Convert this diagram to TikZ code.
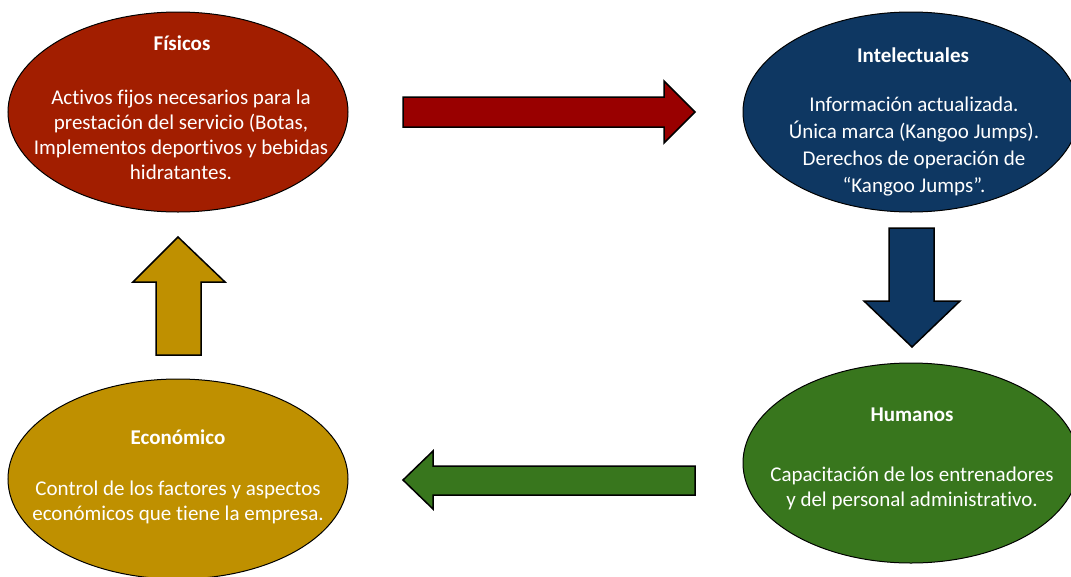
\documentclass[tikz,border=0pt]{standalone}
\usepackage{fontspec}
\setmainfont{Carlito}[Ligatures=NoCommon]
\usetikzlibrary{shapes.geometric}
\definecolor{fisred}{HTML}{A21E00}
\definecolor{arrred}{HTML}{990000}
\definecolor{intblue}{HTML}{0E3762}
\definecolor{humgreen}{HTML}{38761D}
\definecolor{ecogold}{HTML}{BF9000}
\begin{document}
\begin{tikzpicture}[x=1pt,y=-1pt,
  blob/.style={ellipse, draw=black, line width=1pt, minimum width=340pt, minimum height=200pt, inner sep=0pt},
  ttl/.style={text=white, font=\fontsize{21}{25}\selectfont\bfseries},
  bodytext/.style={text=white, align=center, font=\fontsize{21}{25}\selectfont},
  blockarrow/.style={draw=black, line width=1.5pt, line join=miter}]
\useasboundingbox (0,0) rectangle (1071,576);
% ellipses
\node[blob, fill=fisred] (fis) at (178,112) {};
\node[blob, fill=intblue, minimum width=336pt] (int) at (911,112) {};
\node[blob, fill=humgreen, minimum width=336pt] (hum) at (911,463) {};
\node[blob, fill=ecogold] (eco) at (178,479) {};
% texts
\node[ttl] (fist) at (182,43) {Físicos};
\node[bodytext] (fisb) at (181,135) {Activos fijos necesarios para la\\prestación del servicio (Botas,\\Implementos deportivos y bebidas\\hidratantes.};
\node[ttl] (intt) at (913,55) {Intelectuales};
\node[bodytext, font=\fontsize{21}{27}\selectfont] (intb) at (914,147) {Información actualizada.\\Única marca (Kangoo Jumps).\\Derechos de operación de\\“Kangoo Jumps”.};
\node[ttl] (humt) at (912,415) {Humanos};
\node[bodytext] (humb) at (912,488) {Capacitación de los entrenadores\\y del personal administrativo.};
\node[ttl] (ecot) at (178,437) {Económico};
\node[bodytext] (ecob) at (178,502) {Control de los factores y aspectos\\económicos que tiene la empresa.};
% block arrows
\draw[blockarrow, fill=arrred] (403,97) -- (664,97) -- (664,81) -- (695,112) -- (664,143) -- (664,127) -- (403,127) -- cycle;
\draw[blockarrow, fill=intblue] (889,228) -- (934,228) -- (934,301) -- (960,301) -- (912,347) -- (864,301) -- (889,301) -- cycle;
\draw[blockarrow, fill=humgreen] (695,466) -- (433,466) -- (433,451) -- (403,480) -- (433,509) -- (433,495) -- (695,495) -- cycle;
\draw[blockarrow, fill=ecogold] (156,355) -- (156,282) -- (133,282) -- (178,237) -- (225,282) -- (201,282) -- (201,355) -- cycle;
\end{tikzpicture}
\end{document}
